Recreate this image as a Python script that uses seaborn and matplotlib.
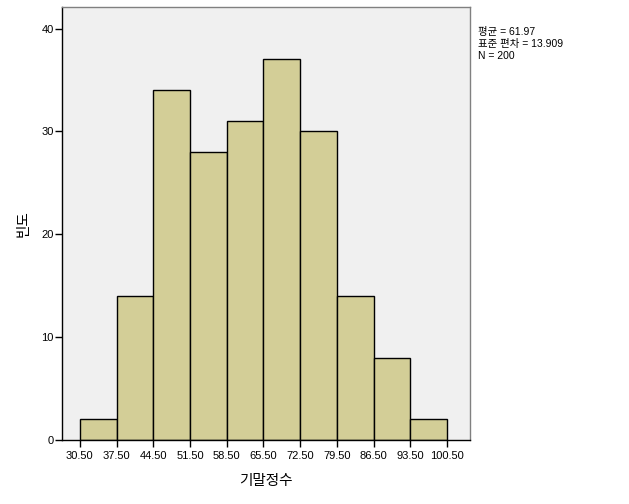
import numpy as np
import pandas as pd
import matplotlib
matplotlib.use("Agg")
from matplotlib import pyplot as plt
import seaborn as sns

# bin edges and frequencies
edges = [30.5, 37.5, 44.5, 51.5, 58.5, 65.5, 72.5, 79.5, 86.5, 93.5, 100.5]
counts = [2, 14, 34, 28, 31, 37, 30, 14, 8, 2]
tick_labels = ['30.50', '37.50', '44.50', '51.50', '58.50', '65.50',
               '72.50', '79.50', '86.50', '93.50', '100.50']
stats_text = '평균 = 61.97\n표준 편차 = 13.909\nN = 200'

centers = [(edges[i] + edges[i + 1]) / 2 for i in range(len(counts))]
df = pd.DataFrame({'score': centers, 'freq': counts})

sns.set_style('white')
plt.rcParams['font.family'] = ['Liberation Sans', 'Noto Sans CJK KR', 'DejaVu Sans']
plt.rcParams['text.color'] = 'black'
plt.rcParams['axes.labelcolor'] = 'black'
plt.rcParams['xtick.color'] = 'black'
plt.rcParams['ytick.color'] = 'black'

fig = plt.figure(figsize=(6.29, 5.04), dpi=100)
ax = fig.add_axes([62 / 629, 64 / 504, 408 / 629, 433 / 504])
ax.set_facecolor('#f0f0f0')

sns.histplot(data=df, x='score', weights='freq', bins=edges, ax=ax,
             color='#d3ce97', alpha=1, edgecolor='black', linewidth=1)

ax.set_xlim(27.1, 104.9)
ax.set_ylim(0, 42.1)
ax.set_xticks(edges)
ax.set_xticklabels(tick_labels, fontsize=8)
ax.set_yticks([0, 10, 20, 30, 40])
ax.tick_params(axis='y', labelsize=8, direction='out', length=5, width=1, left=True, pad=1)
ax.tick_params(axis='x', direction='out', length=5, width=1, bottom=True, pad=3)

for side in ['left', 'bottom']:
    ax.spines[side].set_color('black')
    ax.spines[side].set_linewidth(1)
for side in ['top', 'right']:
    ax.spines[side].set_color('#808080')
    ax.spines[side].set_linewidth(1)

ax.set_xlabel('기말정수', fontsize=10.5, labelpad=9)
ax.set_ylabel('빈도', fontsize=10.5, labelpad=8)

fig.text(478 / 629, 1 - 27 / 504, stats_text, fontsize=7.5, va='top', ha='left', linespacing=1.25)

fig.savefig('out.png', dpi=100, facecolor='white')
